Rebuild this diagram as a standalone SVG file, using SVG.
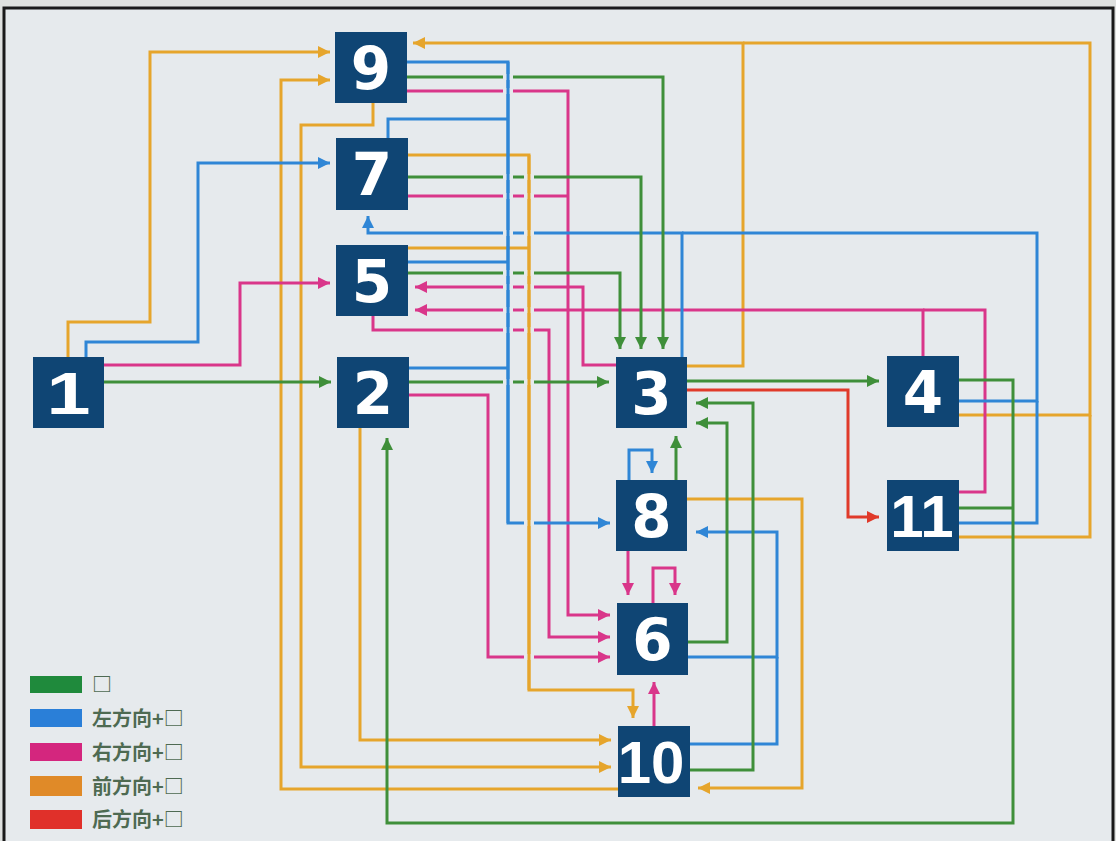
<svg xmlns="http://www.w3.org/2000/svg" width="1116" height="841" viewBox="0 0 1116 841">
<defs>
<style>
.c{fill:none;stroke-width:3;stroke-linejoin:miter;stroke-linecap:butt}
.g{stroke:#3f8f3a}.b{stroke:#2f86d6}.m{stroke:#d9368a}.o{stroke:#e6a52c}.r{stroke:#e03a2a}
.g.a{marker-end:url(#ag)}.b.a{marker-end:url(#ab)}.m.a{marker-end:url(#am)}.o.a{marker-end:url(#ao)}.r.a{marker-end:url(#ar)}
.gap rect{fill:#e6eaed;width:10px;height:6px}
.nd rect{fill:#0f4574}
.nd text{fill:#ffffff;font-family:"DejaVu Sans",sans-serif;font-weight:bold;font-size:58px;text-anchor:middle}
.nd text.ls{font-family:"Liberation Sans",Arial,sans-serif;font-size:60px}
.lg text{fill:#4e6a52;font-family:"Noto Sans CJK SC",sans-serif;font-weight:bold;font-size:20px}
</style>
<marker id="ag" viewBox="0 0 10 10" refX="10" refY="5" markerWidth="12" markerHeight="12" markerUnits="userSpaceOnUse" orient="auto"><path d="M0,0 L10,5 L0,10 z" fill="#3f8f3a"/></marker>
<marker id="ab" viewBox="0 0 10 10" refX="10" refY="5" markerWidth="12" markerHeight="12" markerUnits="userSpaceOnUse" orient="auto"><path d="M0,0 L10,5 L0,10 z" fill="#2f86d6"/></marker>
<marker id="am" viewBox="0 0 10 10" refX="10" refY="5" markerWidth="12" markerHeight="12" markerUnits="userSpaceOnUse" orient="auto"><path d="M0,0 L10,5 L0,10 z" fill="#d9368a"/></marker>
<marker id="ao" viewBox="0 0 10 10" refX="10" refY="5" markerWidth="12" markerHeight="12" markerUnits="userSpaceOnUse" orient="auto"><path d="M0,0 L10,5 L0,10 z" fill="#e6a52c"/></marker>
<marker id="ar" viewBox="0 0 10 10" refX="10" refY="5" markerWidth="12" markerHeight="12" markerUnits="userSpaceOnUse" orient="auto"><path d="M0,0 L10,5 L0,10 z" fill="#e03a2a"/></marker>
</defs>
<rect x="0" y="0" width="1116" height="841" fill="#dfe1df"/>
<rect x="4" y="8" width="1109" height="840" fill="#e6eaed" stroke="#1a1a1a" stroke-width="3"/>
<g id="connectors">
<!-- orange -->
<path class="c o a" d="M68,357 V322 H150 V52 H330"/>
<path class="c o a" d="M687,366 H743 V43 H413"/>
<path class="c o" d="M959,415 H1090 V43 H743"/>
<path class="c o" d="M959,537 H1090 V415"/>
<path class="c o a" d="M408,155 H529 V690 H633 V718"/>
<path class="c o" d="M408,248 H529"/>
<path class="c o a" d="M360,428 V740 H611"/>
<path class="c o a" d="M373,103 V125 H301 V767 H611"/>
<path class="c o a" d="M618,789 H281 V80 H330"/>
<path class="c o a" d="M687,499 H802 V788 H698"/>
<!-- magenta -->
<path class="c m a" d="M104,365 H240 V283 H330"/>
<path class="c m a" d="M407,91 H568 V615 H610"/>
<path class="c m" d="M408,196 H568"/>
<path class="c m a" d="M373,316 V330 H549 V637 H610"/>
<path class="c m a" d="M409,395 H488 V657 H610"/>
<path class="c m a" d="M616,365 H583 V287 H415"/>
<path class="c m a" d="M923,356 V310 H415"/>
<path class="c m" d="M959,492 H985 V310 H923"/>
<path class="c m a" d="M628,551 V595"/>
<path class="c m a" d="M653,603 V568 H675 V595"/>
<path class="c m a" d="M654,726 V682"/>
<!-- blue -->
<path class="c b a" d="M86,357 V342 H198 V163 H330"/>
<path class="c b a" d="M407,62 H508 V523 H610"/>
<path class="c b" d="M388,138 V119 H508"/>
<path class="c b" d="M408,262 H508"/>
<path class="c b" d="M409,368 H508"/>
<path class="c b a" d="M682,357 V233 H368 V216"/>
<path class="c b" d="M959,401 H1037 V233 H682"/>
<path class="c b" d="M959,523 H1037 V401"/>
<path class="c b a" d="M629,480 V450 H652 V473"/>
<path class="c b a" d="M688,657 H777 V532 H696"/>
<path class="c b" d="M690,744 H777 V657"/>
<!-- green -->
<path class="c g a" d="M104,382 H331"/>
<path class="c g a" d="M409,382 H609"/>
<path class="c g a" d="M407,77 H663 V349"/>
<path class="c g a" d="M408,177 H641 V349"/>
<path class="c g a" d="M408,273 H620 V349"/>
<path class="c g a" d="M687,381 H879"/>
<path class="c g a" d="M676,480 V436"/>
<path class="c g a" d="M688,642 H727 V423 H696"/>
<path class="c g a" d="M690,770 H753 V403 H696"/>
<path class="c g a" d="M959,380 H1013 V823 H387 V438"/>
<path class="c g" d="M959,508 H1013"/>
<!-- red -->
<path class="c r a" d="M687,390 H848 V517 H879"/>
<!-- crossing gaps on the two trunks -->
<g class="gap">
<rect x="503" y="74"/><rect x="503" y="88"/><rect x="503" y="174"/><rect x="503" y="193"/>
<rect x="503" y="230"/><rect x="503" y="270"/><rect x="503" y="284"/><rect x="503" y="307"/>
<rect x="503" y="327"/><rect x="503" y="379"/>
<rect x="524" y="174"/><rect x="524" y="193"/><rect x="524" y="230"/><rect x="524" y="270"/>
<rect x="524" y="284"/><rect x="524" y="307"/><rect x="524" y="327"/><rect x="524" y="379"/>
<rect x="524" y="520"/><rect x="524" y="654"/>
</g>
<path class="c b" d="M508,62 V523"/>
<path class="c o" d="M529,155 V690"/>
</g>
<g id="n9" class="nd"><rect x="335" y="32" width="72" height="71"/><text x="371" y="89">9</text></g>
<g id="n7" class="nd"><rect x="336" y="138" width="72" height="72"/><text x="372" y="195">7</text></g>
<g id="n5" class="nd"><rect x="336" y="245" width="72" height="71"/><text x="372" y="302">5</text></g>
<g id="n1" class="nd"><rect x="33" y="357" width="71" height="71"/><text class="ls" x="68.5" y="414" textLength="44" lengthAdjust="spacingAndGlyphs">1</text></g>
<g id="n2" class="nd"><rect x="337" y="357" width="72" height="71"/><text x="373" y="414">2</text></g>
<g id="n3" class="nd"><rect x="616" y="357" width="71" height="71"/><text x="651.5" y="414">3</text></g>
<g id="n4" class="nd"><rect x="887" y="356" width="72" height="71"/><text x="923" y="413">4</text></g>
<g id="n8" class="nd"><rect x="616" y="480" width="71" height="71"/><text x="651.5" y="537">8</text></g>
<g id="n11" class="nd"><rect x="887" y="480" width="72" height="71"/><text class="ls" x="922" y="537">11</text></g>
<g id="n6" class="nd"><rect x="617" y="603" width="71" height="72"/><text x="652.5" y="660">6</text></g>
<g id="n10" class="nd"><rect x="618" y="726" width="72" height="71"/><text class="ls" x="651" y="783">10</text></g>
<g id="legend" class="lg">
<rect x="30" y="676" width="52" height="17" fill="#1f8a3c"/><text x="92" y="692">□</text>
<rect x="30" y="709" width="52" height="18" fill="#2a7fd8"/><text x="92" y="726">左方向+□</text>
<rect x="30" y="743" width="52" height="18" fill="#d4267e"/><text x="92" y="760">右方向+□</text>
<rect x="30" y="776" width="52" height="20" fill="#e08a28"/><text x="92" y="794">前方向+□</text>
<rect x="30" y="810" width="52" height="19" fill="#e0302a"/><text x="92" y="827">后方向+□</text>
</g>
</svg>
